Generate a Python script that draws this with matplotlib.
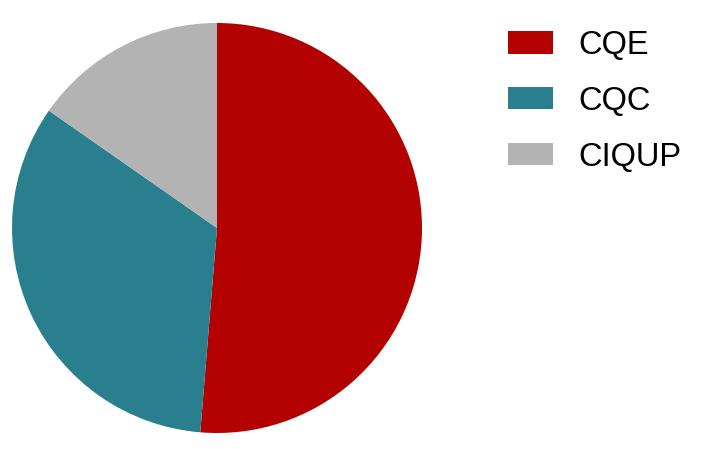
import matplotlib.pyplot as plt
from matplotlib.patches import Patch

plt.rcParams['font.family'] = ['Liberation Sans', 'DejaVu Sans']

# parts du camembert
labels = ['CQE', 'CQC', 'CIQUP']
values = [51.3, 33.4, 15.3]
colors = ['#B30000', '#2A7F8F', '#B3B3B3']

fig = plt.figure(figsize=(7.04, 4.49), dpi=100)
ax = fig.add_axes([12 / 704, 16 / 449, 410 / 704, 410 / 449])
ax.pie(values, colors=colors, startangle=90, counterclock=False, radius=1.0)
ax.set_xlim(-1, 1)
ax.set_ylim(-1, 1)
ax.set_aspect('equal')
ax.axis('off')

handles = [Patch(facecolor=c, edgecolor='none') for c in colors]
fig.legend(handles, labels, loc='upper left', bbox_to_anchor=(508 / 704, 1 - 30 / 449),
           frameon=False, fontsize=23.5, handlelength=1.38, handleheight=0.67,
           handletextpad=0.77, labelspacing=0.76, borderpad=0, borderaxespad=0)

fig.savefig('out.png', dpi=100)
